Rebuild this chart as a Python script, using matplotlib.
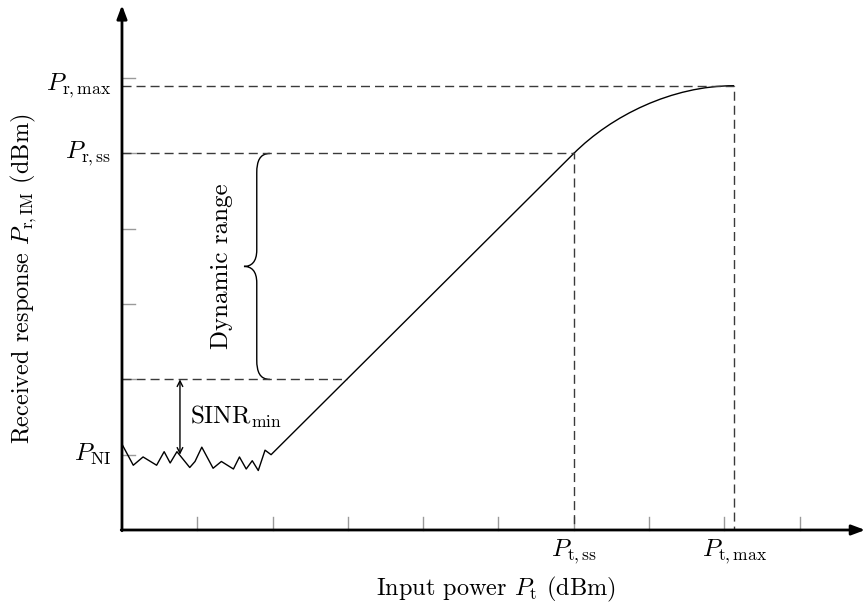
import numpy as np
import matplotlib.pyplot as plt
from matplotlib.path import Path
from matplotlib.patches import PathPatch

plt.rcParams['font.family'] = ['cmr10', 'DejaVu Serif']
plt.rcParams['mathtext.fontset'] = 'cm'
plt.rcParams['axes.formatter.use_mathtext'] = True

# noise floor trace (input power, received response)
noise_x = [0.0, 0.15, 0.28, 0.46, 0.56, 0.64, 0.73, 0.90, 0.97, 1.06, 1.21,
           1.32, 1.48, 1.56, 1.65, 1.73, 1.81, 1.90, 1.98]
noise_y = [1.14, 0.86, 0.97, 0.86, 1.04, 0.89, 1.04, 0.83, 0.91, 1.10, 0.82,
           0.91, 0.81, 0.97, 0.81, 0.92, 0.79, 1.06, 1.00]

p_ni = 1.0
p_t_ss, p_r_ss = 6.0, 5.0
p_t_max, p_r_max = 8.13, 5.9
sinr_floor = 2.0
sinr_x = 0.77

x_ticks = [1, 2, 3, 4, 5, 6, 7, 8, 9]
y_ticks = [1, 2, 3, 4, 5, 6]

fs = 18

fig = plt.figure(figsize=(8.66, 6.05), dpi=100)
ax = fig.add_axes([0, 0, 1, 1])
ax.set_xlim(-1.620, 9.881)
ax.set_ylim(-0.996, 7.038)
ax.axis('off')

ink = 'black'
dash_col = '#3a3a3a'
dash = (0, (6.5, 3.6))

# axes with arrow heads
ax.annotate('', xy=(9.87, 0), xytext=(-0.01, 0),
            arrowprops=dict(arrowstyle='-|>,head_length=0.8,head_width=0.3',
                            lw=2, color=ink, shrinkA=0, shrinkB=0))
ax.annotate('', xy=(0, 6.97), xytext=(0, -0.01),
            arrowprops=dict(arrowstyle='-|>,head_length=0.8,head_width=0.3',
                            lw=2, color=ink, shrinkA=0, shrinkB=0))

# tick marks
for t in x_ticks:
    ax.plot([t, t], [0, 0.17], color='#9a9a9a', lw=1)
for t in y_ticks:
    ax.plot([0, 0.17], [t, t], color='#9a9a9a', lw=1)

# response curve: noise, linear part, compression
ax.plot(noise_x + [p_t_ss], noise_y + [p_r_ss], color=ink, lw=1)
comp = Path([(p_t_ss, p_r_ss), (6.5, 5.5), (7.3, p_r_max), (p_t_max, p_r_max)],
            [Path.MOVETO, Path.CURVE4, Path.CURVE4, Path.CURVE4])
ax.add_patch(PathPatch(comp, fc='none', ec=ink, lw=1))

# guide lines
x_floor = np.interp(sinr_floor, [noise_y[-1], p_r_ss], [noise_x[-1], p_t_ss])
ax.plot([0, p_t_max, p_t_max], [p_r_max, p_r_max, 0], color=dash_col, lw=1, ls=dash)
ax.plot([0, p_t_ss, p_t_ss], [p_r_ss, p_r_ss, 0], color=dash_col, lw=1, ls=dash)
ax.plot([0, x_floor], [sinr_floor, sinr_floor], color=dash_col, lw=1, ls=dash)

# SINR arrow
ax.annotate('', xy=(sinr_x, sinr_floor), xytext=(sinr_x, p_ni),
            arrowprops=dict(arrowstyle='<->,head_length=0.4,head_width=0.2',
                            lw=1, color=ink, shrinkA=0, shrinkB=0))
ax.text(0.9, 1.5, r'$\mathrm{SINR}_{\min}$', fontsize=fs, ha='left', va='center')

# brace for dynamic range
xe, xs, xt = 1.965, 1.79, 1.62
ym = (p_r_ss + sinr_floor) / 2
brace = Path([(xe, p_r_ss), (1.83, p_r_ss), (xs, p_r_ss - 0.1), (xs, p_r_ss - 0.26),
              (xs, ym + 0.22),
              (xs, ym + 0.06), (1.72, ym), (xt, ym),
              (1.72, ym), (xs, ym - 0.06), (xs, ym - 0.22),
              (xs, sinr_floor + 0.26),
              (xs, sinr_floor + 0.1), (1.83, sinr_floor), (xe, sinr_floor)],
             [Path.MOVETO, Path.CURVE4, Path.CURVE4, Path.CURVE4,
              Path.LINETO,
              Path.CURVE4, Path.CURVE4, Path.CURVE4,
              Path.CURVE4, Path.CURVE4, Path.CURVE4,
              Path.LINETO,
              Path.CURVE4, Path.CURVE4, Path.CURVE4])
ax.add_patch(PathPatch(brace, fc='none', ec=ink, lw=1))
ax.text(1.33, ym, 'Dynamic range', fontsize=fs, rotation=90, ha='center', va='center')

# level labels
ax.text(-0.15, p_r_max, r'$P_{\mathrm{r,max}}$', fontsize=fs, ha='right', va='center')
ax.text(-0.15, p_r_ss, r'$P_{\mathrm{r,ss}}$', fontsize=fs, ha='right', va='center')
ax.text(-0.15, p_ni, r'$P_{\mathrm{NI}}$', fontsize=fs, ha='right', va='center')
ax.text(p_t_ss, -0.1, r'$P_{\mathrm{t,ss}}$', fontsize=fs, ha='center', va='top')
ax.text(p_t_max, -0.1, r'$P_{\mathrm{t,max}}$', fontsize=fs, ha='center', va='top')

# axis titles
ax.text(4.97, -0.79, r'Input power $P_{\mathrm{t}}$ (dBm)', fontsize=17.5,
        ha='center', va='center')
ax.text(-1.31, 3.34, r'Received response $P_{\mathrm{r,IM}}$ (dBm)', fontsize=17.5,
        rotation=90, ha='center', va='center')

fig.savefig('out.png', dpi=100)
